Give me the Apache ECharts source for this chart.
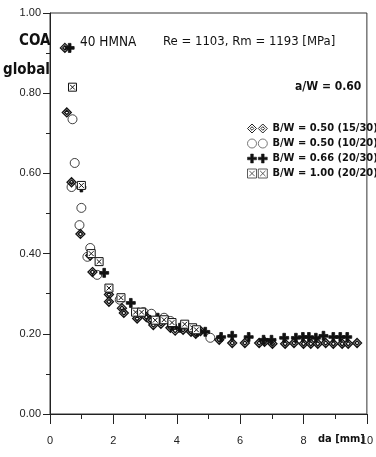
<!DOCTYPE html>
<html><head><meta charset="utf-8">
<script src="https://cdn.jsdelivr.net/npm/echarts@6/dist/echarts.min.js"></script>
<style>html,body{margin:0;padding:0;background:#fff}#c{width:376px;height:457px}</style>
</head><body><div id="c"></div>
<script>
const xTicks = [0, 2, 4, 6, 8, 10];
const yTicks = [0, 0.2, 0.4, 0.6, 0.8, 1.0];
const seriesNames = ['B/W = 0.50 (15/30)', 'B/W = 0.50 (10/20)', 'B/W = 0.66 (20/30)', 'B/W = 1.00 (20/20)'];
const bw050_15_30 = [[0.47,0.913],[0.53,0.752],[0.68,0.578],[0.96,0.449],[1.27,0.395],[1.34,0.354],[1.86,0.298],[1.86,0.28],[2.27,0.264],[2.33,0.252],[2.8,0.247],[2.75,0.238],[3.04,0.242],[3.17,0.234],[3.26,0.222],[3.5,0.225],[3.8,0.215],[3.95,0.208],[4.2,0.21],[4.45,0.205],[4.6,0.2],[4.75,0.207],[5.34,0.185],[5.75,0.177],[6.15,0.177],[6.6,0.177],[6.77,0.18],[7.02,0.175],[7.42,0.175],[7.7,0.177],[8.0,0.175],[8.23,0.175],[8.45,0.175],[8.7,0.177],[8.94,0.175],[9.22,0.175],[9.41,0.175],[9.69,0.177]];
const bw050_10_20 = [[0.71,0.735],[0.78,0.626],[0.68,0.566],[0.99,0.514],[0.93,0.471],[1.27,0.414],[1.18,0.392],[1.49,0.347],[2.2,0.285],[2.95,0.254],[3.2,0.25],[3.6,0.24],[3.8,0.232],[4.5,0.21],[5.06,0.19]];
const bw066_20_30 = [[0.62,0.913],[0.99,0.565],[1.71,0.352],[2.55,0.277],[3.4,0.24],[3.85,0.22],[4.1,0.215],[4.65,0.205],[4.9,0.205],[5.4,0.192],[5.75,0.195],[6.27,0.192],[6.74,0.185],[6.99,0.185],[7.39,0.19],[7.76,0.19],[7.98,0.192],[8.17,0.192],[8.39,0.19],[8.63,0.195],[8.94,0.192],[9.16,0.192],[9.38,0.192]];
const bw100_20_20 = [[0.71,0.815],[0.99,0.57],[1.3,0.40],[1.55,0.38],[1.86,0.314],[2.24,0.29],[2.7,0.254],[2.89,0.254],[3.32,0.234],[3.6,0.235],[3.85,0.228],[4.25,0.224],[4.5,0.215],[4.62,0.21]];

const FONT = "'Liberation Sans',Arial,sans-serif";
const NARROW = "'DejaVu Sans Condensed','Liberation Sans',sans-serif";
const symDiamond = 'path://M5 0 L10 5 L5 10 L0 5 Z M5 2.6 L7.4 5 L5 7.4 L2.6 5 Z';
const symPlus = 'path://M3.5 0 L6.5 0 L6.5 3.5 L10 3.5 L10 6.5 L6.5 6.5 L6.5 10 L3.5 10 L3.5 6.5 L0 6.5 L0 3.5 L3.5 3.5 Z';
const symBox = 'path://M0 0 L10 0 L10 10 L0 10 Z M2 2 L8 8 M8 2 L2 8';
const legDiamond = 'path://M5 0 L10 5 L5 10 L0 5 Z M5 3 L7 5 L5 7 L3 5 Z M17 0 L22 5 L17 10 L12 5 Z M17 3 L19 5 L17 7 L15 5 Z';
const legCircle = 'path://M0 5 A5 5 0 1 0 10 5 A5 5 0 1 0 0 5 Z M12 5 A5 5 0 1 0 22 5 A5 5 0 1 0 12 5 Z';
const legPlus = 'path://M3.5 0 L6.5 0 L6.5 3.5 L10 3.5 L10 6.5 L6.5 6.5 L6.5 10 L3.5 10 L3.5 6.5 L0 6.5 L0 3.5 L3.5 3.5 Z M15.5 0 L18.5 0 L18.5 3.5 L22 3.5 L22 6.5 L18.5 6.5 L18.5 10 L15.5 10 L15.5 6.5 L12 6.5 L12 3.5 L15.5 3.5 Z';
const legBox = 'path://M0 0 L10 0 L10 10 L0 10 Z M2 2 L8 8 M8 2 L2 8 M12 0 L22 0 L22 10 L12 10 Z M14 2 L20 8 M20 2 L14 8';

const chart = echarts.init(document.getElementById('c'), null, {renderer: 'canvas'});
const mk = (name, data, symbol, size, fill, bw) => ({
  name, type: 'scatter', data, symbol, symbolSize: size,
  itemStyle: {color: fill, borderColor: '#111', borderWidth: bw, opacity: 1},
  emphasis: {disabled: true}
});
chart.setOption({
  animation: false,
  backgroundColor: '#fff',
  grid: {left: 50, right: 4, top: 13, bottom: 43, show: true, borderColor: '#333', borderWidth: 1},
  xAxis: {
    type: 'value', min: 0, max: 10, interval: 2,
    axisLine: {lineStyle: {color: '#222', width: 1}},
    axisTick: {show: true, length: 10, lineStyle: {color: '#222'}},
    minorTick: {show: true, splitNumber: 2, length: 5, lineStyle: {color: '#222'}},
    splitLine: {show: false},
    axisLabel: {margin: 21, color: '#222', fontSize: 11, fontFamily: FONT}
  },
  yAxis: {
    type: 'value', min: 0, max: 1, interval: 0.2,
    axisLine: {lineStyle: {color: '#222', width: 1}},
    axisTick: {show: true, length: 7, lineStyle: {color: '#222'}},
    minorTick: {show: true, splitNumber: 2, length: 4, lineStyle: {color: '#222'}},
    splitLine: {show: false},
    axisLabel: {margin: 9, color: '#222', fontSize: 11, fontFamily: FONT, formatter: v => v.toFixed(2)}
  },
  legend: {
    orient: 'vertical', left: 247, top: 123, itemGap: 4, itemWidth: 20, itemHeight: 9, padding: 0,
    textStyle: {fontSize: 11, fontWeight: 'bold', color: '#111', fontFamily: NARROW},
    data: [
      {name: seriesNames[0], icon: legDiamond, itemStyle: {color: '#fff', borderColor: '#222', borderWidth: 1}},
      {name: seriesNames[1], icon: legCircle, itemStyle: {color: '#fff', borderColor: '#555', borderWidth: 0.8}},
      {name: seriesNames[2], icon: legPlus, itemStyle: {color: '#111', borderColor: '#111', borderWidth: 0.5}},
      {name: seriesNames[3], icon: legBox, itemStyle: {color: '#fff', borderColor: '#333', borderWidth: 0.8}}
    ]
  },
  graphic: [
    {type: 'text', left: 19, top: 34, style: {text: 'COA', font: "bold 15px " + NARROW, fill: '#111'}},
    {type: 'text', left: 3, top: 63, style: {text: 'global', font: "bold 15px " + NARROW, fill: '#111'}},
    {type: 'text', left: 80, top: 35, style: {text: '40 HMNA', font: "13.5px " + NARROW, fill: '#111'}},
    {type: 'text', left: 163, top: 35, style: {text: 'Re = 1103, Rm = 1193 [MPa]', font: "13px " + NARROW, fill: '#111'}},
    {type: 'text', left: 295, top: 81, style: {text: 'a/W = 0.60', font: "bold 12px " + NARROW, fill: '#111'}},
    {type: 'text', left: 318, top: 434, style: {text: 'da [mm]', font: "bold 11px " + NARROW, fill: '#111'}}
  ],
  series: [
    mk(seriesNames[0], bw050_15_30, symDiamond, 9, '#fff', 1.3),
    mk(seriesNames[1], bw050_10_20, 'circle', 9, 'rgba(255,255,255,0)', 0.8),
    mk(seriesNames[2], bw066_20_30, symPlus, 9, '#111', 0.8),
    mk(seriesNames[3], bw100_20_20, symBox, 8, '#fff', 1)
  ]
});
</script></body></html>
